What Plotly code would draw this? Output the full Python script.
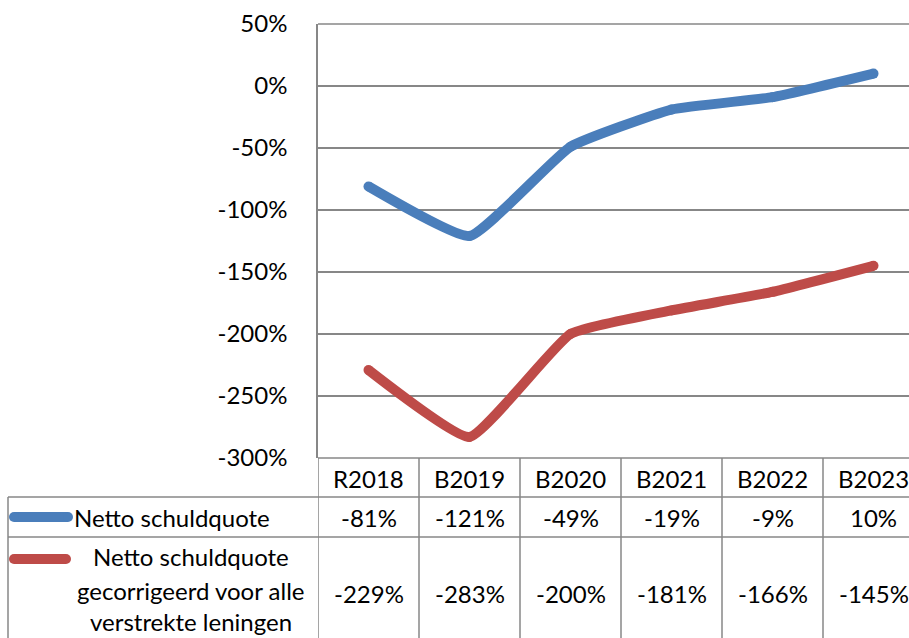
import plotly.graph_objects as go

categories = ["R2018", "B2019", "B2020", "B2021", "B2022", "B2023"]
series1_label = ["Netto schuldquote"]
series2_label = ["Netto schuldquote", "gecorrigeerd voor alle", "verstrekte leningen"]
blue_values = [-81, -121, -49, -19, -9, 10]
red_values = [-229, -283, -200, -181, -166, -145]
y_ticks = [50, 0, -50, -100, -150, -200, -250, -300]
y_tick_labels = [f"{v}%" for v in y_ticks]

W, H = 909, 638
BLUE = "#4A7EBB"
RED = "#BE4B48"
GRID = "#878787"
FONT = "Lato, Calibri, sans-serif"
FS = 24

# pixel layout
plot_left, plot_top, plot_bottom = 318, 24, 458
row1_y, row2_y = 497, 537
cat_w = 101.0

def px(x):
    return x / W

def py(y):
    return 1 - y / H

fig = go.Figure()
xs = list(range(len(categories)))
for vals, color in [(blue_values, BLUE), (red_values, RED)]:
    fig.add_trace(go.Scatter(
        x=xs, y=vals, mode="lines+markers",
        line=dict(color=color, width=10, shape="spline", smoothing=0.4),
        marker=dict(color=color, size=10),
        hoverinfo="skip", showlegend=False,
    ))

# legend swatches in a pixel coordinate overlay
fig.add_trace(go.Scatter(x=[14, 68], y=[517, 517], mode="lines+markers",
                         line=dict(color=BLUE, width=10), marker=dict(color=BLUE, size=10),
                         xaxis="x2", yaxis="y2", showlegend=False, hoverinfo="skip"))
fig.add_trace(go.Scatter(x=[14, 66], y=[559, 559], mode="lines+markers",
                         line=dict(color=RED, width=10), marker=dict(color=RED, size=10),
                         xaxis="x2", yaxis="y2", showlegend=False, hoverinfo="skip"))

x_max = -0.5 + (W - plot_left) / cat_w
fig.update_layout(
    width=W, height=H, autosize=False, showlegend=False,
    margin=dict(l=0, r=0, t=0, b=0, pad=0, autoexpand=False),
    paper_bgcolor="white", plot_bgcolor="rgba(0,0,0,0)",
    font=dict(family=FONT, size=FS, color="black"),
    xaxis=dict(domain=[px(plot_left), 1], range=[-0.5, x_max], showgrid=False,
               showticklabels=False, zeroline=False, showline=False, automargin=False),
    yaxis=dict(domain=[py(plot_bottom), py(plot_top)], range=[-300, 50],
               tickmode="array", tickvals=y_ticks, ticktext=y_tick_labels,
               showgrid=True, gridcolor=GRID, automargin=False,
               gridwidth=1.5, zeroline=False, showline=True, linecolor=GRID,
               linewidth=1.5, ticks="", ticklabelstandoff=24,
               tickfont=dict(family=FONT, size=FS)),
    xaxis2=dict(domain=[0, 1], range=[0, W], visible=False, anchor="y2", automargin=False),
    yaxis2=dict(domain=[0, 1], range=[H, 0], visible=False, anchor="x2", automargin=False),
)

line = dict(color=GRID, width=1.5)
shapes = []
# top gridline at the upper edge of the plot area
shapes.append(dict(type="line", xref="paper", yref="paper", x0=px(plot_left), x1=1,
                   y0=py(plot_top), y1=py(plot_top), line=line, layer="below"))
shapes.append(dict(type="line", xref="paper", yref="paper", x0=px(plot_left), x1=1,
                   y0=py(plot_bottom), y1=py(plot_bottom), line=line))
for yy in [row1_y, row2_y]:
    shapes.append(dict(type="line", xref="paper", yref="paper", x0=px(8), x1=1,
                       y0=py(yy), y1=py(yy), line=line))
shapes.append(dict(type="line", xref="paper", yref="paper", x0=px(8), x1=px(8),
                   y0=py(row1_y), y1=0, line=line))
for i in range(len(categories)):
    shapes.append(dict(type="line", xref="x", yref="paper", x0=i - 0.5, x1=i - 0.5,
                       y0=py(plot_bottom), y1=0, line=line))
fig.update_layout(shapes=shapes)

ann = []
for i, c in enumerate(categories):
    ann.append(dict(x=i, y=py(478), xref="x", yref="paper", text=c, showarrow=False,
                    xanchor="center", yanchor="middle"))
    ann.append(dict(x=i, y=py(517), xref="x", yref="paper", text=f"{blue_values[i]}%",
                    showarrow=False, xanchor="center", yanchor="middle"))
    ann.append(dict(x=i, y=py(593), xref="x", yref="paper", text=f"{red_values[i]}%",
                    showarrow=False, xanchor="center", yanchor="middle"))
ann.append(dict(x=px(72), y=py(517), xref="paper", yref="paper", text=series1_label[0],
                showarrow=False, xanchor="left", yanchor="middle"))
for txt, yy in zip(series2_label, [556, 590, 621]):
    ann.append(dict(x=px(191), y=py(yy), xref="paper", yref="paper", text=txt,
                    showarrow=False, xanchor="center", yanchor="middle"))
fig.update_layout(annotations=ann)

fig.write_html("out.html", config={"displayModeBar": False},
               post_script="document.body.style.margin='0';document.body.style.overflow='hidden';")
